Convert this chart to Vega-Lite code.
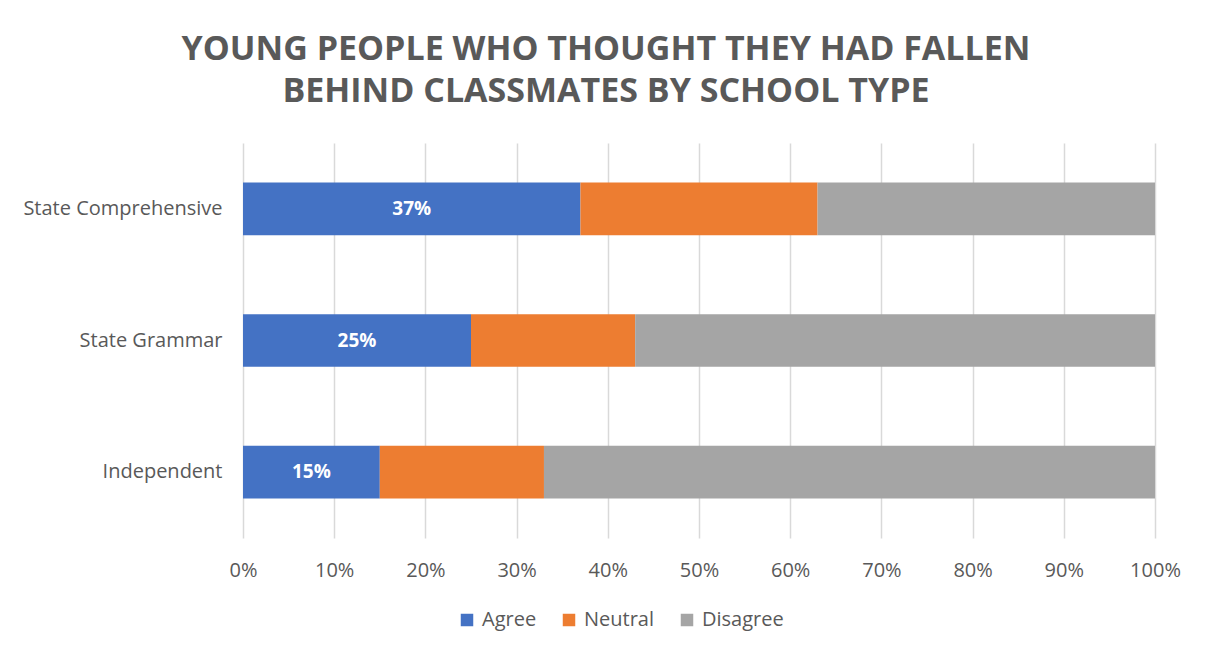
{
  "$schema": "https://vega.github.io/schema/vega-lite/v6.json",
  "width": 912,
  "height": 395,
  "autosize": {"type": "none"},
  "padding": {"left": 243, "top": 143, "right": 53, "bottom": 116},
  "background": "white",
  "title": {
    "text": ["YOUNG PEOPLE WHO THOUGHT THEY HAD FALLEN", "BEHIND CLASSMATES BY SCHOOL TYPE"],
    "font": "Open Sans",
    "fontSize": 34,
    "fontWeight": "bold",
    "color": "#595959",
    "anchor": "middle",
    "frame": "group",
    "dx": -93,
    "offset": 34,
    "lineHeight": 42
  },
  "config": {"view": {"stroke": null}, "font": "Open Sans"},
  "data": {
    "values": [
      {"school": "State Comprehensive", "response": "Agree", "value": 0.37, "rank": 1},
      {"school": "State Comprehensive", "response": "Neutral", "value": 0.26, "rank": 2},
      {"school": "State Comprehensive", "response": "Disagree", "value": 0.37, "rank": 3},
      {"school": "State Grammar", "response": "Agree", "value": 0.25, "rank": 1},
      {"school": "State Grammar", "response": "Neutral", "value": 0.18, "rank": 2},
      {"school": "State Grammar", "response": "Disagree", "value": 0.57, "rank": 3},
      {"school": "Independent", "response": "Agree", "value": 0.15, "rank": 1},
      {"school": "Independent", "response": "Neutral", "value": 0.18, "rank": 2},
      {"school": "Independent", "response": "Disagree", "value": 0.67, "rank": 3}
    ]
  },
  "layer": [
    {
      "mark": {"type": "bar"},
      "encoding": {
        "y": {
          "field": "school",
          "type": "nominal",
          "sort": ["State Comprehensive", "State Grammar", "Independent"],
          "scale": {"paddingInner": 0.6, "paddingOuter": 0.3},
          "axis": {"title": null, "ticks": false, "domain": false, "labelFontSize": 20, "labelColor": "#595959", "labelPadding": 21, "labelFont": "Open Sans", "labelLimit": 400}
        },
        "x": {
          "field": "value",
          "type": "quantitative",
          "stack": "zero",
          "scale": {"domain": [0, 1], "nice": false},
          "axis": {
            "title": null,
            "values": [0, 0.1, 0.2, 0.3, 0.4, 0.5, 0.6, 0.7, 0.8, 0.9, 1],
            "format": ".0%",
            "grid": true,
            "gridColor": "#d9d9d9",
            "gridWidth": 1.5,
            "ticks": false,
            "domain": false,
            "labelFontSize": 20,
            "labelColor": "#595959",
            "labelPadding": 22,
            "labelFont": "Open Sans",
            "labelFlush": false
          }
        },
        "color": {
          "field": "response",
          "type": "nominal",
          "scale": {"domain": ["Agree", "Neutral", "Disagree"], "range": ["#4472C4", "#ED7D31", "#A5A5A5"]},
          "legend": {
            "title": null,
            "orient": "none",
            "legendX": 214,
            "legendY": 467,
            "direction": "horizontal",
            "symbolType": "square",
            "symbolSize": 156,
            "symbolStrokeWidth": 0,
            "symbolOpacity": 1,
            "labelFontSize": 20,
            "labelColor": "#595959",
            "labelFont": "Open Sans",
            "labelOffset": 5,
            "columnPadding": 22
          }
        },
        "order": {"field": "rank", "type": "quantitative"}
      }
    },
    {
      "transform": [{"filter": "datum.response === 'Agree'"}],
      "mark": {"type": "text", "color": "white", "fontWeight": "bold", "fontSize": 19, "font": "Open Sans", "baseline": "middle", "align": "center"},
      "encoding": {
        "y": {"field": "school", "type": "nominal", "sort": ["State Comprehensive", "State Grammar", "Independent"]},
        "x": {"field": "value", "type": "quantitative", "scale": {"domain": [0, 2], "nice": false}, "axis": null},
        "text": {"field": "value", "type": "quantitative", "format": ".0%"}
      }
    }
  ],
  "resolve": {"scale": {"x": "independent"}}
}
